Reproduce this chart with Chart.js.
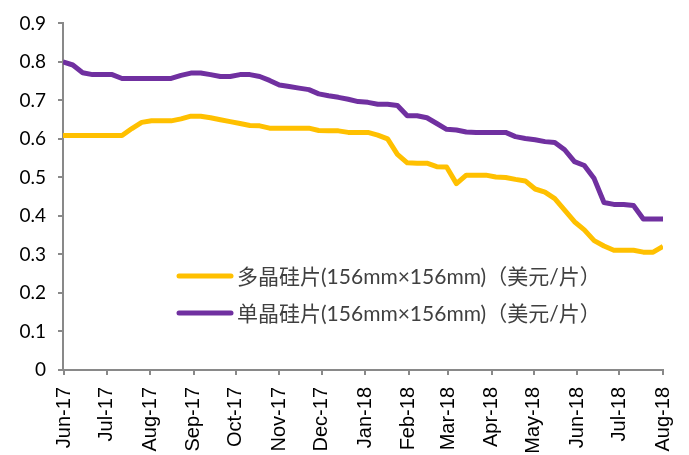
<!DOCTYPE html>
<html>
<head>
<meta charset="utf-8">
<script src="https://cdn.jsdelivr.net/npm/chart.js@4.4.1/dist/chart.umd.min.js"></script>
<style>
  html, body { margin: 0; padding: 0; background: #fff; }
  canvas { display: block; }
</style>
</head>
<body>
<canvas id="chart-area" width="689" height="455"></canvas>
<script>
// weekly price dates (Wednesdays)
var dates = [
  '2017-05-31','2017-06-07','2017-06-14','2017-06-21','2017-06-28',
  '2017-07-05','2017-07-12','2017-07-19','2017-07-26',
  '2017-08-02','2017-08-09','2017-08-16','2017-08-23','2017-08-30',
  '2017-09-06','2017-09-13','2017-09-20','2017-09-27',
  '2017-10-04','2017-10-11','2017-10-18','2017-10-25',
  '2017-11-01','2017-11-08','2017-11-15','2017-11-22','2017-11-29',
  '2017-12-06','2017-12-13','2017-12-20','2017-12-27',
  '2018-01-03','2018-01-10','2018-01-17','2018-01-24','2018-01-31',
  '2018-02-07','2018-02-14','2018-02-21','2018-02-28',
  '2018-03-07','2018-03-14','2018-03-21','2018-03-28',
  '2018-04-04','2018-04-11','2018-04-18','2018-04-25',
  '2018-05-02','2018-05-09','2018-05-16','2018-05-23','2018-05-30',
  '2018-06-06','2018-06-13','2018-06-20','2018-06-27',
  '2018-07-04','2018-07-11','2018-07-18','2018-07-25','2018-08-01'
];

// 多晶硅片 (multi)
var multiPrice = [
  0.609,0.609,0.609,0.609,0.609,0.609,0.609,0.627,0.643,0.647,
  0.647,0.647,0.652,0.659,0.659,0.655,0.650,0.645,0.640,0.635,
  0.634,0.628,0.628,0.628,0.628,0.628,0.622,0.621,0.621,0.617,
  0.617,0.617,0.610,0.600,0.560,0.538,0.537,0.537,0.528,0.527,
  0.484,0.506,0.506,0.506,0.501,0.500,0.495,0.491,0.470,0.462,
  0.445,0.415,0.385,0.364,0.336,0.322,0.311,0.311,0.311,0.306,
  0.306,0.321
];

// 单晶硅片 (mono)
var monoPrice = [
  0.800,0.792,0.772,0.767,0.767,0.767,0.757,0.757,0.757,0.757,
  0.757,0.757,0.765,0.771,0.771,0.767,0.762,0.762,0.767,0.767,
  0.762,0.752,0.740,0.736,0.732,0.728,0.717,0.712,0.708,0.703,
  0.697,0.695,0.690,0.690,0.687,0.660,0.660,0.655,0.640,0.625,
  0.623,0.618,0.617,0.617,0.617,0.617,0.606,0.601,0.598,0.593,
  0.591,0.572,0.541,0.531,0.497,0.435,0.430,0.430,0.427,0.392,
  0.392,0.392
];

var seriesNames = [
  '多晶硅片(156mm×156mm)（美元/片）',
  '单晶硅片(156mm×156mm)（美元/片）'
];

var tickDates = [
  '2017-06-01','2017-07-01','2017-08-01','2017-09-01','2017-10-01',
  '2017-11-01','2017-12-01','2018-01-01','2018-02-01','2018-03-01',
  '2018-04-01','2018-05-01','2018-06-01','2018-07-01','2018-08-01'
];
var tickLabels = [
  'Jun-17','Jul-17','Aug-17','Sep-17','Oct-17','Nov-17','Dec-17',
  'Jan-18','Feb-18','Mar-18','Apr-18','May-18','Jun-18','Jul-18','Aug-18'
];

// days since 2017-06-01
function dayNum(s) {
  var p = s.split('-');
  return (Date.UTC(+p[0], +p[1] - 1, +p[2]) - Date.UTC(2017, 5, 1)) / 86400000;
}
var tickDays = tickDates.map(dayNum);

function toPoints(vals) {
  return vals.map(function (v, i) { return { x: dayNum(dates[i]), y: v }; });
}

// legend drawn inside the plot area
var innerLegend = {
  id: 'innerLegend',
  afterDatasetsDraw: function (chart) {
    var ctx = chart.ctx;
    var a = chart.chartArea;
    var x0 = a.left + 116;
    var rows = [a.bottom - 94, a.bottom - 57];
    ctx.save();
    chart.data.datasets.forEach(function (ds, i) {
      var y = rows[i];
      ctx.strokeStyle = ds.borderColor;
      ctx.lineWidth = 5;
      ctx.lineCap = 'round';
      ctx.beginPath();
      ctx.moveTo(x0, y);
      ctx.lineTo(x0 + 52, y);
      ctx.stroke();
      ctx.fillStyle = '#404040';
      ctx.font = '21px Lato, "Noto Sans CJK SC", sans-serif';
      ctx.textBaseline = 'middle';
      ctx.textAlign = 'left';
      ctx.fillText(ds.label, x0 + 58, y + 1);
    });
    ctx.restore();
  }
};

var axisColor = '#898989';

var ctx = document.getElementById('chart-area');
var myChart = new Chart(ctx, {
  type: 'line',
  data: {
    datasets: [
      {
        label: seriesNames[0],
        data: toPoints(multiPrice),
        borderColor: '#FFC000',
        backgroundColor: '#FFC000',
        borderWidth: 5
      },
      {
        label: seriesNames[1],
        data: toPoints(monoPrice),
        borderColor: '#7030A0',
        backgroundColor: '#7030A0',
        borderWidth: 5
      }
    ]
  },
  options: {
    responsive: false,
    animation: false,
    devicePixelRatio: 1,
    layout: { padding: { top: 20, right: 26, left: 0, bottom: 0 } },
    elements: {
      point: { radius: 0, hoverRadius: 0 },
      line: { tension: 0, borderJoinStyle: 'round', borderCapStyle: 'butt' }
    },
    plugins: {
      legend: { display: false },
      tooltip: { enabled: false }
    },
    scales: {
      x: {
        type: 'linear',
        min: dayNum(dates[0]),
        max: dayNum(dates[dates.length - 1]),
        afterBuildTicks: function (axis) {
          axis.ticks = tickDays.map(function (d) { return { value: d }; });
        },
        afterFit: function (axis) {
          axis.height = 85;
          axis.paddingLeft = 0;
          axis.paddingRight = 0;
        },
        border: { display: true, color: axisColor, width: 2 },
        grid: { display: true, drawOnChartArea: false, drawTicks: true, tickLength: 5, color: axisColor, lineWidth: 2 },
        ticks: {
          autoSkip: false,
          maxRotation: 90,
          minRotation: 90,
          padding: 12,
          color: '#000',
          font: { family: '"Liberation Sans", Arial, sans-serif', size: 20 },
          callback: function (value, index) { return tickLabels[index]; }
        }
      },
      y: {
        min: 0,
        max: 0.9,
        afterFit: function (axis) { axis.width = 63; },
        border: { display: true, color: axisColor, width: 2 },
        grid: { display: true, drawOnChartArea: false, drawTicks: true, tickLength: 5, color: axisColor, lineWidth: 2 },
        ticks: {
          stepSize: 0.1,
          padding: 12,
          color: '#000',
          font: { family: 'Lato, "Liberation Sans", sans-serif', size: 19 },
          callback: function (v) { return String(+v.toFixed(1)); }
        }
      }
    }
  },
  plugins: [innerLegend]
});
</script>
</body>
</html>
